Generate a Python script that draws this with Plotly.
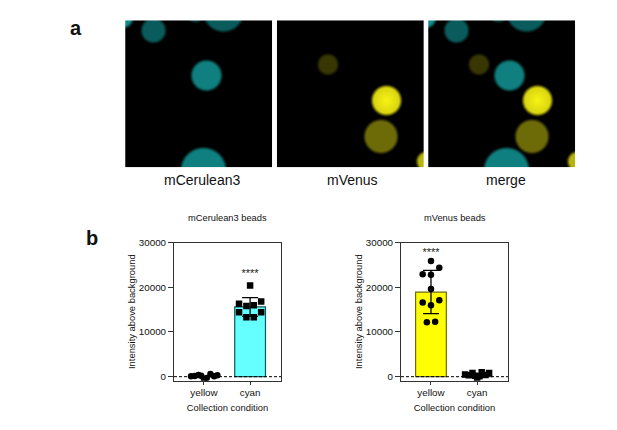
import numpy as np
import plotly.graph_objects as go

W, H = 617, 430

# --- panel a: beads (pixel position in a 147 px field, radius, brightness 0..1, core boost)
cyan_x = [-2, 28, 98, 70, 81, 78]
cyan_y = [-2, 10, -9, -7, 55, 150]
cyan_r = [9, 12, 20, 8.5, 15, 22.5]
cyan_level = [0.55, 0.36, 0.36, 0.28, 0.5, 0.5]
yellow_x = [50.5, 109, 103.5, 149]
yellow_y = [44, 80, 116, 141]
yellow_r = [10, 14.5, 16.5, 9.5]
yellow_level = [0.22, 0.84, 0.43, 0.72]
yellow_core = [0.0, 0.16, 0.0, 0.0]
panel_names = ["mCerulean3", "mVenus", "merge"]

# --- panel b
categories = ["yellow", "cyan"]
cer_means = [0, 15600]
cer_err_hi = [0, 2100]
cer_err_lo = [0, 2100]
cer_yellow_off = [-0.28, -0.2, -0.12, -0.06, 0.0, 0.06, 0.14, 0.22, 0.29]
cer_yellow_val = [100, 150, 400, 200, -700, -300, 600, 100, 300]
cer_cyan_off = [0.0, -0.24, 0.24, -0.08, 0.08, -0.24, 0.24, -0.08, 0.08]
cer_cyan_val = [20400, 16300, 16800, 15800, 16000, 14400, 14400, 13300, 13300]

ven_means = [18900, 0]
ven_err_hi = [4900, 0]
ven_err_lo = [4800, 0]
ven_yellow_off = [0.0, 0.18, -0.18, 0.0, 0.0, -0.18, 0.18, 0.0, -0.09, 0.09]
ven_yellow_val = [25900, 24400, 22900, 22800, 19600, 16600, 17100, 16000, 12200, 12300]
ven_cyan_off = [-0.26, -0.18, -0.1, -0.04, 0.0, 0.05, 0.1, 0.18, 0.26]
ven_cyan_val = [500, 300, 800, 200, -500, 100, 1000, 400, 800]

y_ticks = [0, 10000, 20000, 30000]


def layer(xs, ys, rs, levels, core=None):
    yy, xx = np.mgrid[0:147, 0:147]
    out = np.zeros((147, 147))
    for i, (cx, cy, r, lv) in enumerate(zip(xs, ys, rs, levels)):
        d = np.hypot(xx - cx, yy - cy)
        edge = np.clip((r + 2.5 - d) / 5.0, 0, 1)
        edge = edge * edge * (3 - 2 * edge)
        boost = 1.0
        if core:
            boost = 1 + core[i] * np.clip(1 - d / r, 0, 1)
        out = np.maximum(out, lv * edge * boost)
    return np.clip(out, 0, 1)


cy_layer = layer(cyan_x, cyan_y, cyan_r, cyan_level)
ye_layer = layer(yellow_x, yellow_y, yellow_r, yellow_level, yellow_core)


def rgb(show_c, show_y):
    r = (ye_layer * 255 * show_y + cy_layer * 30 * show_c)
    g = (ye_layer * 250 * show_y + cy_layer * 255 * show_c)
    b = (ye_layer * 20 * show_y + cy_layer * 255 * show_c)
    return np.clip(np.dstack([r, g, b]), 0, 255).astype(int).tolist()


def dx(px):
    return px / W


def dy(px):
    return 1 - px / H


fig = go.Figure()

# image panels
panels = [(125, 272.3, (1, 0)), (276.3, 424.3, (0, 1)), (428, 575.3, (1, 1))]
layout = {}
for i, (x0, x1, (c, y)) in enumerate(panels):
    n = i + 1
    fig.add_trace(go.Image(z=rgb(c, y), xaxis=f"x{n}", yaxis=f"y{n}", hoverinfo="skip"))
    layout[f"xaxis{n}"] = dict(domain=[dx(x0), dx(x1)], range=[-0.5, 146.5], visible=False, anchor=f"y{n}", automargin=False)
    layout[f"yaxis{n}"] = dict(domain=[dy(167.3), dy(20.3)], range=[146.5, -0.5], visible=False, anchor=f"x{n}", automargin=False)


def bar_panel(n, x0, x1, means, hi, lo, colors, lines, yellow_off, yellow_val, yellow_sym,
              cyan_off, cyan_val, cyan_sym, star_x, star_y):
    xa, ya = f"x{n}", f"y{n}"
    xs = [0, 1]
    fig.add_trace(go.Bar(x=xs, y=means, width=0.667, marker=dict(color=colors, line=dict(color=lines, width=1.2)),
                         xaxis=xa, yaxis=ya, showlegend=False))
    fig.add_trace(go.Scatter(x=[-0.65, 1.67], y=[0, 0], mode="lines", xaxis=xa, yaxis=ya, showlegend=False,
                             line=dict(color="black", width=1, dash="3px,2px")))
    for off, val, sym, cx in ((yellow_off, yellow_val, yellow_sym, 0), (cyan_off, cyan_val, cyan_sym, 1)):
        fig.add_trace(go.Scatter(x=[cx + o for o in off], y=val, mode="markers", xaxis=xa, yaxis=ya, showlegend=False,
                                 marker=dict(color="black", size=6.5, symbol=sym, line=dict(width=0))))
    err_idx = 0 if means[0] > 0 else 1
    fig.add_trace(go.Scatter(x=[err_idx], y=[means[err_idx]], mode="markers", xaxis=xa, yaxis=ya, showlegend=False,
                             marker=dict(size=0.1, color="black"),
                             error_y=dict(type="data", symmetric=False, array=[hi[err_idx]], arrayminus=[lo[err_idx]],
                                          color="black", thickness=1.3, width=8)))
    fig.add_trace(go.Scatter(x=[star_x], y=[star_y], mode="text", text=["****"], xaxis=xa, yaxis=ya, showlegend=False,
                             textposition="middle center",
                             textfont=dict(size=11, color="#222", family="Liberation Sans")))
    layout[f"xaxis{n}"] = dict(
        domain=[dx(x0), dx(x1)], range=[-0.65, 1.67], anchor=ya, tickmode="array", tickvals=xs, ticktext=categories,
        ticks="outside", ticklen=3, tickcolor="#333", tickwidth=1, showgrid=False, zeroline=False,
        showline=True, linecolor="#333", linewidth=1, mirror=True, automargin=False,
        tickfont=dict(size=9.8, color="#111", family="Liberation Sans"),
        title=dict(text="Collection condition", standoff=6, font=dict(size=9.4, color="#111", family="Liberation Sans")))
    layout[f"yaxis{n}"] = dict(
        domain=[dy(380.7), dy(242.6)], range=[-900, 30000], anchor=xa, tickmode="array", tickvals=y_ticks,
        ticktext=[str(t) for t in y_ticks], ticks="outside", ticklen=5, tickcolor="#333", tickwidth=1,
        showgrid=False, zeroline=False, showline=True, linecolor="#333", linewidth=1, mirror=True, automargin=False,
        tickfont=dict(size=9.8, color="#111", family="Liberation Sans"),
        title=dict(text="Intensity above background", standoff=0.5, font=dict(size=9.4, color="#111", family="Liberation Sans")))


bar_panel(4, 174, 281, cer_means, cer_err_hi, cer_err_lo, ["#66FFFF", "#66FFFF"], ["#333", "#0b5a5a"],
          cer_yellow_off, cer_yellow_val, "circle", cer_cyan_off, cer_cyan_val, "square", 1, 23000)
bar_panel(5, 401, 508, ven_means, ven_err_hi, ven_err_lo, ["#FFFF00", "#FFFF00"], ["#6b6b10", "#333"],
          ven_yellow_off, ven_yellow_val, "circle", ven_cyan_off, ven_cyan_val, "square", 0, 27600)

texts = [
    ("a", 76, 28, 20, True), ("b", 92, 238, 20, True),
    (panel_names[0], 201.7, 180, 14, False), (panel_names[1], 352, 180, 14, False), (panel_names[2], 506, 180, 14, False),
    ("mCerulean3 beads", 227.7, 218, 9.3, False), ("mVenus beads", 455, 218, 9.3, False),
]
annotations = [dict(text=f"<b>{t}</b>" if b else t, x=dx(x), y=dy(y), xref="paper", yref="paper", showarrow=False,
                    xanchor="center", yanchor="middle", font=dict(size=s, color="#111", family="Liberation Sans"))
               for t, x, y, s, b in texts]

fig.update_layout(width=W, height=H, margin=dict(l=0, r=0, t=0, b=0), paper_bgcolor="white", plot_bgcolor="white",
                  showlegend=False, annotations=annotations, **layout)
fig.write_html("out.html", config={"displayModeBar": False}, post_script="document.body.style.margin='0';")
